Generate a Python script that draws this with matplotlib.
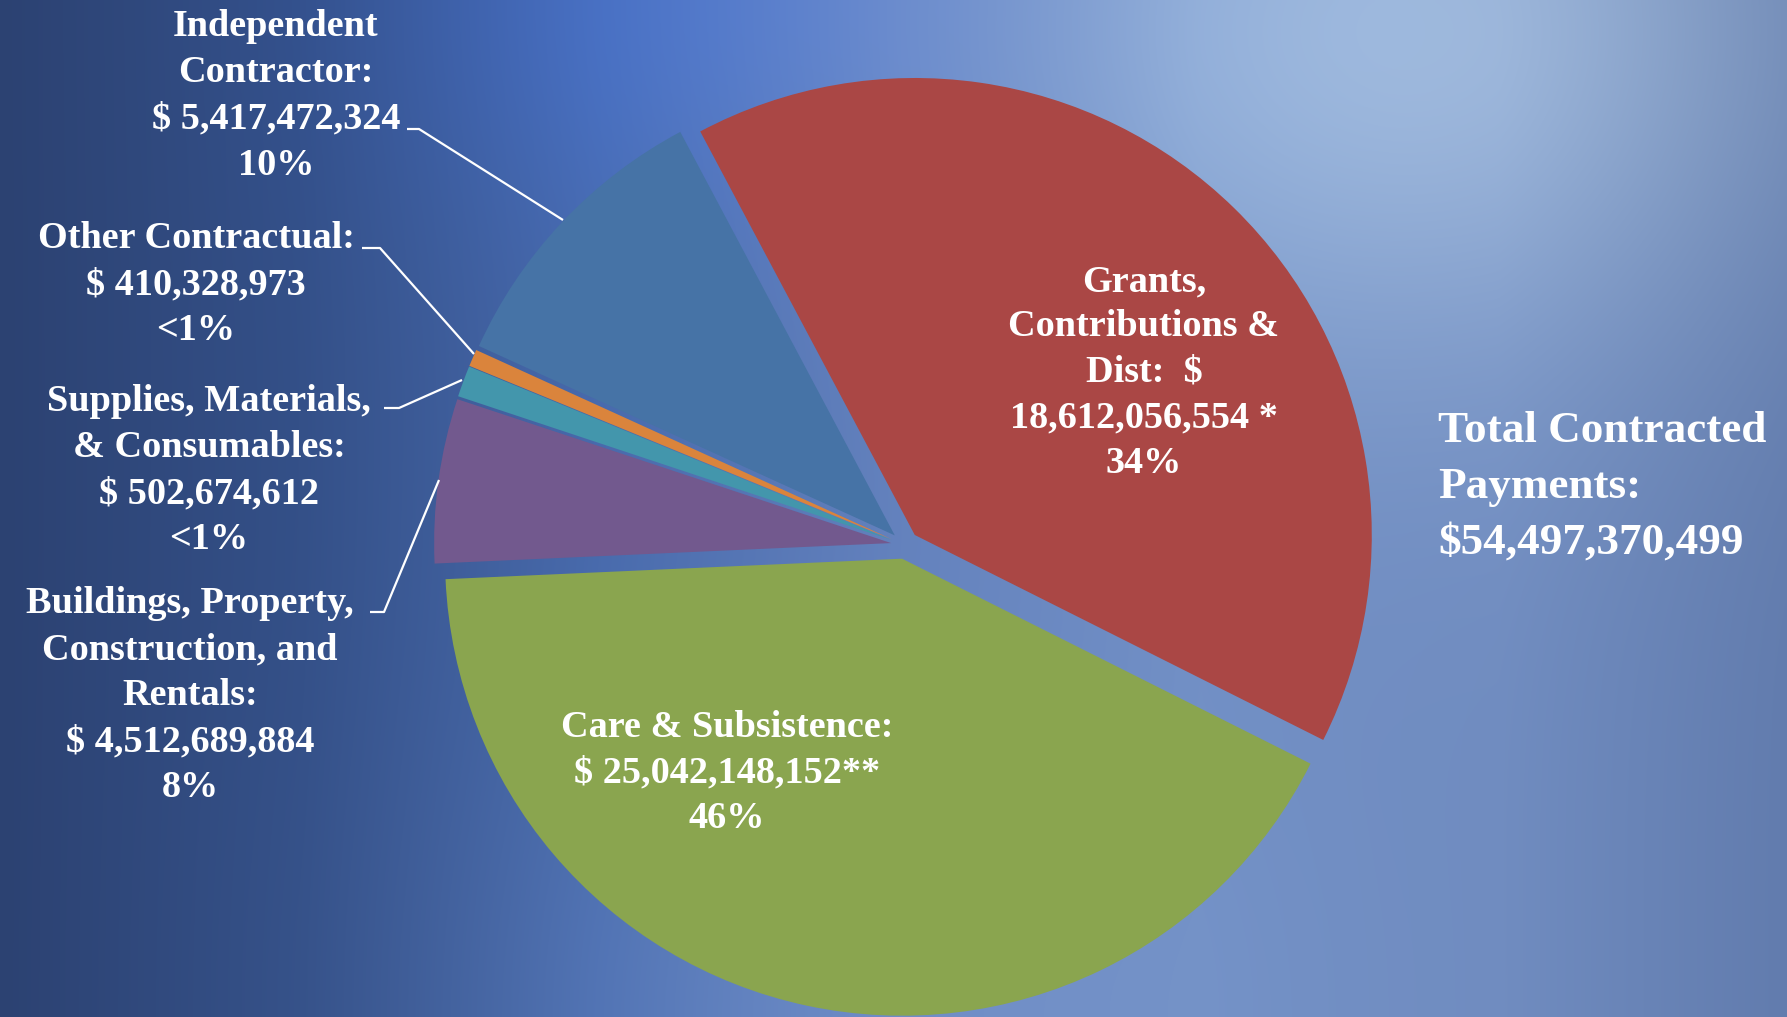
import numpy as np
import matplotlib
matplotlib.use('Agg')
import matplotlib.pyplot as plt

W, H = 1787, 1017

# slices, clockwise from the top-left edge of the red slice
categories = ['Grants, Contributions & Dist', 'Care & Subsistence',
              'Buildings, Property, Construction, and Rentals',
              'Supplies, Materials, & Consumables', 'Other Contractual',
              'Independent Contractor']
amounts = [18612056554, 25042148152, 4512689884, 502674612, 410328973, 5417472324]
# share of the circle each slice takes in the picture (%)
drawn_share = [40.1, 41.8, 5.8, 1.1, 0.6, 10.4]
colors = ['#AA4745', '#8AA54F', '#72598E', '#4396AC', '#DA843C', '#4673A6']

grants_lines = ['Grants,', 'Contributions &', 'Dist:  $', '18,612,056,554 *', '34%']
care_lines = ['Care & Subsistence:', '$ 25,042,148,152**', '46%']
buildings_lines = ['Buildings, Property,', 'Construction, and', 'Rentals:',
                   '$ 4,512,689,884', '8%']
supplies_lines = ['Supplies, Materials,', '& Consumables:', '$ 502,674,612', '<1%']
other_lines = ['Other Contractual:', '$ 410,328,973', '<1%']
indep_lines = ['Independent', 'Contractor:', '$ 5,417,472,324', '10%']
total_lines = ['Total Contracted', 'Payments:', '$54,497,370,499']

FONT = 'Liberation Serif'

fig = plt.figure(figsize=(W / 100, H / 100), dpi=100)
ax = fig.add_axes([0, 0, 1, 1])

# background gradient (navy on the left, pale blue top right)
gx = np.linspace(0, W, 450)
gy = np.linspace(0, H, 260)
XX, YY = np.meshgrid(gx, gy)
stop_x = [0, 300, 600, 900, 1200, 1500, 1787]
stop_rgb = np.array([[44, 66, 114], [52, 80, 136], [72, 106, 172], [98, 128, 188],
                     [112, 142, 196], [112, 140, 192], [98, 124, 174]], float)
bg = np.stack([np.interp(XX, stop_x, stop_rgb[:, c]) for c in range(3)], axis=-1)
hl = np.exp(-(((XX - 1420) / 420) ** 2 + ((YY - 30) / 330) ** 2))
bg += hl[..., None] * np.array([46, 44, 28])
tc = np.exp(-(((XX - 650) / 300) ** 2 + ((YY - 0) / 220) ** 2))
bg += tc[..., None] * np.array([0, 6, 24])
bc = np.exp(-(((XX - 800) / 380) ** 2 + ((YY - 1017) / 300) ** 2))
bg += bc[..., None] * np.array([14, 14, 12])
bg = np.clip(bg, 0, 255) / 255
ax.imshow(bg, extent=[0, W, H, 0], origin='upper', interpolation='bilinear',
          aspect='auto', zorder=0)

# pie (y axis runs downward, so counterclock=True draws clockwise on screen)
ax.pie(drawn_share, colors=colors, center=(905, 545), radius=457,
       startangle=-118, counterclock=True, explode=[14] * len(drawn_share),
       wedgeprops=dict(linewidth=0, zorder=2))
ax.set_xlim(0, W)
ax.set_ylim(H, 0)
ax.set_aspect('auto')
ax.axis('off')


def block(lines, x, y0, step, size=27.5, ha='center'):
    for i, s in enumerate(lines):
        ax.text(x, y0 + i * step, s, ha=ha, va='baseline', color='white',
                fontsize=size, fontweight='bold', family=FONT, zorder=5)


block(indep_lines, 276, 36, 46.3)
block(other_lines, 196, 248, 46)
block(supplies_lines, 209, 411, 46)
block(buildings_lines, 190, 613, 46)
block(grants_lines, 1144, 291, 45.5)
block(care_lines, 727, 737, 45.5)
block(total_lines, 1438, 442, 56, size=32.5, ha='left')

# leader lines
leaders = [([407, 419, 563], [129, 129, 220]),
           ([362, 380, 474], [248, 248, 354]),
           ([384, 399, 462], [408, 408, 380]),
           ([370, 384, 439], [612, 612, 480])]
for lx, ly in leaders:
    ax.plot(lx, ly, color='white', lw=1.6, solid_capstyle='butt', zorder=4)

fig.savefig('out.png', dpi=100)
